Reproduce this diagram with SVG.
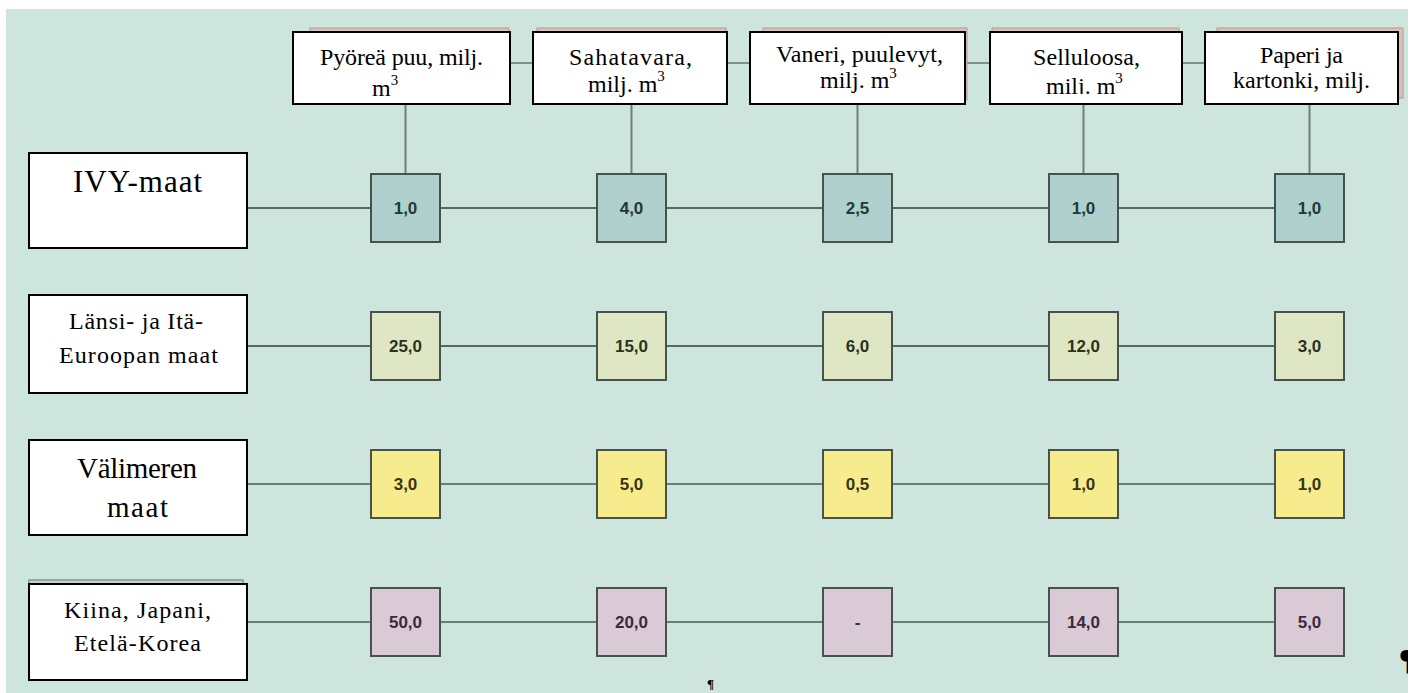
<svg xmlns="http://www.w3.org/2000/svg" width="1416" height="693" viewBox="0 0 1416 693">
<style>
.bg{fill:#cde5dc}
.hdr{fill:#ffffff;stroke:#000000;stroke-width:2}
.shadow{fill:#d9c2ba;stroke:#b39a92;stroke-width:1}
.lbl{fill:#ffffff;stroke:#000000;stroke-width:2}
.serif{font-family:"Liberation Serif","Times New Roman",serif;fill:#000000}
.val{font-family:"Liberation Sans",Arial,sans-serif;font-weight:bold;font-size:17px;text-anchor:middle}
.vbox{stroke:#46524e;stroke-width:2}
.r1{fill:#afd0cc}
.r2{fill:#dee6c4}
.r3{fill:#f6ec8e}
.r4{fill:#dacad6}
.t1{fill:#22383a}
.t2{fill:#2b321f}
.t3{fill:#3a3410}
.t4{fill:#3a2a3a}
.rowdark{stroke:#2f3e3a;stroke-width:1.6;fill:none}
.rowlight{stroke:#667f79;stroke-width:2;fill:none}
.vert{stroke:#6d7f78;stroke-width:2;fill:none}
.hline{stroke:#7d918a;stroke-width:2;fill:none}
</style>
<defs>
<clipPath id="clip4"><rect x="991" y="33" width="190" height="61"/></clipPath>
<clipPath id="clipR"><rect x="0" y="0" width="1408" height="693"/></clipPath>
</defs>
<rect x="0" y="0" width="1416" height="693" fill="#ffffff"/>
<rect class="bg" x="6" y="9" width="1402" height="684"/>

<g id="connectors">
<line class="hline" x1="510" y1="63" x2="1205" y2="63"/>
<line class="vert" x1="405.5" y1="104" x2="405.5" y2="174"/>
<line class="vert" x1="631.5" y1="104" x2="631.5" y2="174"/>
<line class="vert" x1="857.5" y1="104" x2="857.5" y2="174"/>
<line class="vert" x1="1083.5" y1="104" x2="1083.5" y2="174"/>
<line class="vert" x1="1309.5" y1="104" x2="1309.5" y2="174"/>
<line class="rowdark" x1="247" y1="208" x2="1275" y2="208"/>
<line class="rowdark" x1="247" y1="346" x2="1275" y2="346"/>
<line class="rowlight" x1="247" y1="484" x2="1275" y2="484"/>
<line class="rowlight" x1="247" y1="622" x2="1275" y2="622"/>
</g>

<g id="hdr-pyorea">
<rect class="shadow" x="310" y="28" width="199" height="72"/>
<rect class="hdr" x="293" y="32" width="217" height="72"/>
<text class="serif" x="320" y="65" font-size="24" textLength="163" lengthAdjust="spacing">Pyöreä puu, milj.</text>
<text class="serif" x="372" y="96" font-size="24">m<tspan font-size="15" dy="-11">3</tspan></text>
</g>
<g id="hdr-sahatavara">
<rect class="shadow" x="537" y="28" width="189" height="72"/>
<rect class="hdr" x="533" y="32" width="194" height="72"/>
<text class="serif" x="569" y="65" font-size="24" textLength="123" lengthAdjust="spacing">Sahatavara,</text>
<text class="serif" x="588" y="92" font-size="24">milj. m<tspan font-size="15" dy="-11">3</tspan></text>
</g>
<g id="hdr-vaneri">
<rect class="shadow" x="763" y="28" width="204" height="72"/>
<rect class="hdr" x="750" y="32" width="215" height="72"/>
<text class="serif" x="776" y="62" font-size="24" textLength="167" lengthAdjust="spacing">Vaneri, puulevyt,</text>
<text class="serif" x="820" y="88" font-size="24">milj. m<tspan font-size="15" dy="-10">3</tspan></text>
</g>
<g id="hdr-selluloosa">
<rect class="shadow" x="992" y="28" width="187" height="72"/>
<rect class="hdr" x="990" y="32" width="192" height="72"/>
<text class="serif" x="1033" y="65" font-size="24" textLength="107" lengthAdjust="spacing">Selluloosa,</text>
<text class="serif" x="1046" y="94" font-size="24" clip-path="url(#clip4)">milj. m<tspan font-size="15" dy="-11">3</tspan></text>
</g>
<g id="hdr-paperi">
<rect class="shadow" x="1217" y="28" width="186" height="70"/>
<rect class="hdr" x="1205" y="32" width="193" height="72"/>
<text class="serif" x="1260" y="63" font-size="24" textLength="83" lengthAdjust="spacing">Paperi ja</text>
<text class="serif" x="1233" y="88" font-size="24" textLength="137" lengthAdjust="spacing">kartonki, milj.</text>
</g>

<g id="lbl-ivy">
<rect class="lbl" x="29" y="153" width="218" height="95"/>
<text class="serif" x="73" y="192" font-size="31" textLength="129" lengthAdjust="spacing">IVY-maat</text>
</g>
<g id="lbl-lansi">
<rect class="lbl" x="29" y="295" width="218" height="98"/>
<text class="serif" x="69" y="329" font-size="24" textLength="134" lengthAdjust="spacing">Länsi- ja Itä-</text>
<text class="serif" x="59" y="363" font-size="24" textLength="159" lengthAdjust="spacing">Euroopan maat</text>
</g>
<g id="lbl-valimeren">
<rect class="lbl" x="29" y="440" width="218" height="95"/>
<text class="serif" x="77" y="478" font-size="29" textLength="120" lengthAdjust="spacing">Välimeren</text>
<text class="serif" x="107" y="517" font-size="29" textLength="61" lengthAdjust="spacing">maat</text>
</g>
<g id="lbl-kiina">
<rect x="29" y="580" width="214" height="96" fill="#c9d2cd" stroke="#8a9490" stroke-width="1.5"/>
<rect class="lbl" x="29" y="584" width="218" height="96"/>
<text class="serif" x="64" y="618" font-size="24" textLength="147" lengthAdjust="spacing">Kiina, Japani,</text>
<text class="serif" x="74" y="651" font-size="24" textLength="127" lengthAdjust="spacing">Etelä-Korea</text>
</g>

<g id="row-ivy">
<g id="ivy-1"><rect class="vbox r1" x="371" y="174" width="69" height="68"/><text class="val t1" x="405.5" y="214">1,0</text></g>
<g id="ivy-2"><rect class="vbox r1" x="597" y="174" width="69" height="68"/><text class="val t1" x="631.5" y="214">4,0</text></g>
<g id="ivy-3"><rect class="vbox r1" x="823" y="174" width="69" height="68"/><text class="val t1" x="857.5" y="214">2,5</text></g>
<g id="ivy-4"><rect class="vbox r1" x="1049" y="174" width="69" height="68"/><text class="val t1" x="1083.5" y="214">1,0</text></g>
<g id="ivy-5"><rect class="vbox r1" x="1275" y="174" width="69" height="68"/><text class="val t1" x="1309.5" y="214">1,0</text></g>
</g>
<g id="row-lansi">
<g id="lansi-1"><rect class="vbox r2" x="371" y="312" width="69" height="68"/><text class="val t2" x="405.5" y="352">25,0</text></g>
<g id="lansi-2"><rect class="vbox r2" x="597" y="312" width="69" height="68"/><text class="val t2" x="631.5" y="352">15,0</text></g>
<g id="lansi-3"><rect class="vbox r2" x="823" y="312" width="69" height="68"/><text class="val t2" x="857.5" y="352">6,0</text></g>
<g id="lansi-4"><rect class="vbox r2" x="1049" y="312" width="69" height="68"/><text class="val t2" x="1083.5" y="352">12,0</text></g>
<g id="lansi-5"><rect class="vbox r2" x="1275" y="312" width="69" height="68"/><text class="val t2" x="1309.5" y="352">3,0</text></g>
</g>
<g id="row-valimeren">
<g id="val-1"><rect class="vbox r3" x="371" y="450" width="69" height="68"/><text class="val t3" x="405.5" y="490">3,0</text></g>
<g id="val-2"><rect class="vbox r3" x="597" y="450" width="69" height="68"/><text class="val t3" x="631.5" y="490">5,0</text></g>
<g id="val-3"><rect class="vbox r3" x="823" y="450" width="69" height="68"/><text class="val t3" x="857.5" y="490">0,5</text></g>
<g id="val-4"><rect class="vbox r3" x="1049" y="450" width="69" height="68"/><text class="val t3" x="1083.5" y="490">1,0</text></g>
<g id="val-5"><rect class="vbox r3" x="1275" y="450" width="69" height="68"/><text class="val t3" x="1309.5" y="490">1,0</text></g>
</g>
<g id="row-kiina">
<g id="kiina-1"><rect class="vbox r4" x="371" y="588" width="69" height="68"/><text class="val t4" x="405.5" y="628">50,0</text></g>
<g id="kiina-2"><rect class="vbox r4" x="597" y="588" width="69" height="68"/><text class="val t4" x="631.5" y="628">20,0</text></g>
<g id="kiina-3"><rect class="vbox r4" x="823" y="588" width="69" height="68"/><text class="val t4" x="857.5" y="628">-</text></g>
<g id="kiina-4"><rect class="vbox r4" x="1049" y="588" width="69" height="68"/><text class="val t4" x="1083.5" y="628">14,0</text></g>
<g id="kiina-5"><rect class="vbox r4" x="1275" y="588" width="69" height="68"/><text class="val t4" x="1309.5" y="628">5,0</text></g>
</g>

<text class="serif" x="707" y="688" font-size="13" font-weight="bold">¶</text>
<text class="serif" x="1399" y="669" font-size="30" font-weight="bold" clip-path="url(#clipR)">¶</text>
</svg>
